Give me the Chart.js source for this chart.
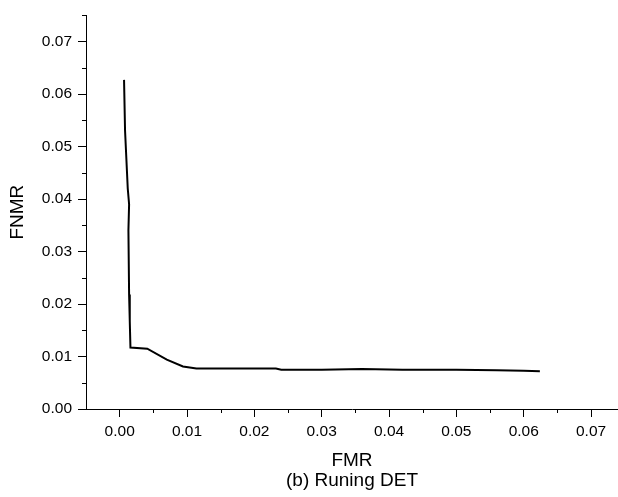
<!DOCTYPE html>
<html>
<head>
<meta charset="utf-8">
<script src="https://cdn.jsdelivr.net/npm/chart.js@4/dist/chart.umd.min.js"></script>
<style>
  html, body { margin: 0; padding: 0; background: #fff; }
  #wrap { width: 618px; height: 497px; }
</style>
</head>
<body>
<div id="wrap"><canvas id="c" width="618" height="497"></canvas></div>
<script>
// ---- data ----
const fmr  = [0.00065, 0.0008, 0.0012, 0.0014, 0.0013, 0.0014, 0.0015, 0.0016, 0.0041, 0.0070, 0.0094, 0.0114, 0.0160, 0.0232, 0.0240, 0.0300, 0.0360, 0.0420, 0.0500, 0.0560, 0.0600, 0.0624];
const fnmr = [0.0627, 0.0530, 0.0420, 0.0390, 0.0340, 0.0218, 0.0167, 0.0117, 0.0115, 0.0094, 0.0081, 0.0077, 0.0077, 0.0077, 0.0075, 0.0075, 0.0076, 0.0075, 0.0075, 0.0074, 0.0073, 0.0072];

const xTickValues = [0, 0.005, 0.01, 0.015, 0.02, 0.025, 0.03, 0.035, 0.04, 0.045, 0.05, 0.055, 0.06, 0.065, 0.07];
const yTickValues = [0, 0.005, 0.01, 0.015, 0.02, 0.025, 0.03, 0.035, 0.04, 0.045, 0.05, 0.055, 0.06, 0.065, 0.07, 0.075];
const xTickLabels = ['0.00', '0.01', '0.02', '0.03', '0.04', '0.05', '0.06', '0.07'];
const yTickLabels = ['0.00', '0.01', '0.02', '0.03', '0.04', '0.05', '0.06', '0.07'];

const xTitle = 'FMR';
const yTitle = 'FNMR';
const caption = '(b) Runing DET';

const points = fmr.map((x, i) => ({ x: x, y: fnmr[i] }));
const isMajor = v => Math.round(v * 200) % 2 === 0;
const labelFor = (labels, v) => isMajor(v) ? labels[Math.round(v * 100)] : '';

const FONT = "'Liberation Sans', Arial, sans-serif";

const minorTicks = {
  id: 'minorTicks',
  afterDraw(chart) {
    const ctx = chart.ctx;
    const xs = chart.scales.x, ys = chart.scales.y;
    ctx.save();
    ctx.strokeStyle = '#000';
    ctx.lineWidth = 1;
    ctx.beginPath();
    xs.ticks.forEach(t => {
      if (!isMajor(t.value)) {
        const px = Math.round(xs.getPixelForValue(t.value)) + 0.5;
        ctx.moveTo(px, xs.top);
        ctx.lineTo(px, xs.top + 4);
      }
    });
    ys.ticks.forEach(t => {
      if (!isMajor(t.value)) {
        const py = Math.round(ys.getPixelForValue(t.value)) + 0.5;
        ctx.moveTo(ys.right, py);
        ctx.lineTo(ys.right - 4, py);
      }
    });
    ctx.stroke();
    ctx.restore();
  }
};

new Chart(document.getElementById('c'), {
  type: 'scatter',
  data: {
    datasets: [{
      data: points,
      showLine: true,
      borderColor: '#000',
      borderWidth: 2,
      pointRadius: 0,
      tension: 0,
      fill: false
    }]
  },
  options: {
    responsive: false,
    animation: false,
    devicePixelRatio: 1,
    layout: { padding: { top: 10, right: 0, left: 0, bottom: 0 } },
    plugins: { legend: { display: false }, tooltip: { enabled: false }, title: { display: false } },
    scales: {
      x: {
        type: 'linear',
        min: -0.005,
        max: 0.074,
        afterBuildTicks: s => { s.ticks = xTickValues.map(v => ({ value: v })); },
        afterFit: s => { s.height = 88; },
        border: { display: true, color: '#000', width: 1 },
        grid: {
          drawOnChartArea: false,
          drawTicks: true,
          tickLength: 8,
          tickColor: c => (c.tick && isMajor(c.tick.value)) ? '#000' : 'rgba(0,0,0,0)'
        },
        ticks: {
          autoSkip: false,
          maxRotation: 0,
          padding: 5,
          color: '#000',
          font: { family: FONT, size: 15.5 },
          callback: v => labelFor(xTickLabels, v)
        },
        title: {
          display: true,
          text: [xTitle, caption],
          color: '#000',
          font: { family: FONT, size: 19, lineHeight: 1.05 },
          padding: { top: 0, bottom: 6 }
        }
      },
      y: {
        type: 'linear',
        min: 0,
        max: 0.075,
        afterBuildTicks: s => { s.ticks = yTickValues.map(v => ({ value: v })); },
        afterFit: s => { s.width = 86; },
        border: { display: true, color: '#000', width: 1 },
        grid: {
          drawOnChartArea: false,
          drawTicks: true,
          tickLength: 8,
          tickColor: c => (c.tick && isMajor(c.tick.value)) ? '#000' : 'rgba(0,0,0,0)'
        },
        ticks: {
          autoSkip: false,
          padding: 6,
          color: '#000',
          font: { family: FONT, size: 15.5 },
          callback: v => labelFor(yTickLabels, v)
        },
        title: {
          display: true,
          text: yTitle,
          color: '#000',
          font: { family: FONT, size: 19, lineHeight: 1.2 },
          padding: { top: 6, bottom: 0 }
        }
      }
    }
  },
  plugins: [minorTicks]
});
</script>
</body>
</html>
